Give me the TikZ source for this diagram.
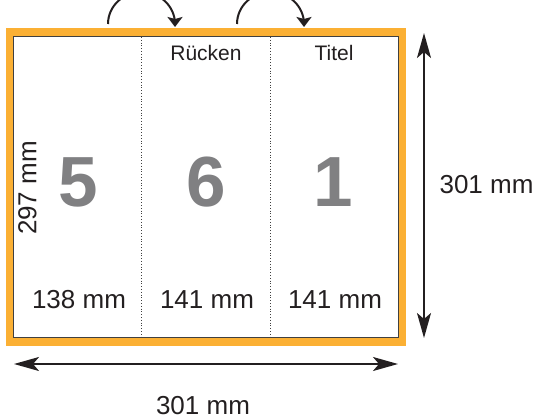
\documentclass[tikz,border=0pt]{standalone}
\usepackage{fontspec}
\setmainfont{Liberation Sans}
\usetikzlibrary{arrows.meta}
\definecolor{borange}{RGB}{251,176,52}
\definecolor{txt}{RGB}{35,31,32}
\definecolor{bignum}{RGB}{128,128,130}
\tikzset{
  lbl/.style={text=txt,font=\fontsize{26}{30}\selectfont,inner sep=0pt},
  hdr/.style={text=txt,font=\fontsize{21}{25}\selectfont,inner sep=0pt,anchor=base},
  big/.style={text=bignum,font=\fontsize{71}{80}\selectfont\bfseries,inner sep=0pt,anchor=base},
  dimarrow/.style={line width=2pt,draw=txt,{Stealth[length=25pt,width=14pt,inset=6pt]}-{Stealth[length=25pt,width=14pt,inset=6pt]}},
  turnarrow/.style={line width=2pt,draw=txt,-{Stealth[length=10pt,width=15pt,inset=2pt]}},
  fold/.style={draw=black!75,line width=0.8pt,dotted}
}
\begin{document}
\begin{tikzpicture}[x=1pt,y=-1pt]
\useasboundingbox (0,0) rectangle (536,420);
% paper with orange frame
\fill[borange] (6,28) rectangle (406,346);
\draw[fill=white,draw=black!75,line width=1.2pt] (13.3,36.5) rectangle (398.5,337.8);
% folds
\coordinate (f1t) at (141.7,37);
\coordinate (f1b) at (141.7,337);
\coordinate (f2t) at (270,37);
\coordinate (f2b) at (270,337);
\draw[fold] (f1t) -- (f1b);
\draw[fold] (f2t) -- (f2b);
% turn arrows
\coordinate (a1) at (108,24);
\coordinate (a2) at (237,24);
\draw[turnarrow] (a1) arc[start angle=180,end angle=360,x radius=33.5,y radius=32] -- ++(0,3);
\draw[turnarrow] (a2) arc[start angle=180,end angle=360,x radius=33.5,y radius=32] -- ++(0,3);
% headers
\node[hdr] (ruecken) at (206,61) {Rücken};
\node[hdr] (titel) at (334,61) {Titel};
% big numbers
\node[big] (n5) at (78,206) {5};
\node[big] (n6) at (206.5,206) {6};
\node[big] (n1) at (333.5,206) {1};
% widths
\node[lbl,anchor=base] (w1) at (79,308) {138 mm};
\node[lbl,anchor=base] (w2) at (207,308) {141 mm};
\node[lbl,anchor=base] (w3) at (335,308) {141 mm};
% height inside
\node[lbl,rotate=90] (h297) at (27.5,188) {297 mm};
% dimension arrows
\coordinate (hl) at (14,364);
\coordinate (hr) at (398,364);
\draw[dimarrow] (hl) -- (hr);
\node[lbl,anchor=base] (wtot) at (203,414) {301 mm};
\coordinate (vt) at (424,33);
\coordinate (vb) at (424,338);
\draw[dimarrow] (vt) -- (vb);
\node[lbl,anchor=base] (htot) at (486.5,193) {301 mm};
\end{tikzpicture}
\end{document}
